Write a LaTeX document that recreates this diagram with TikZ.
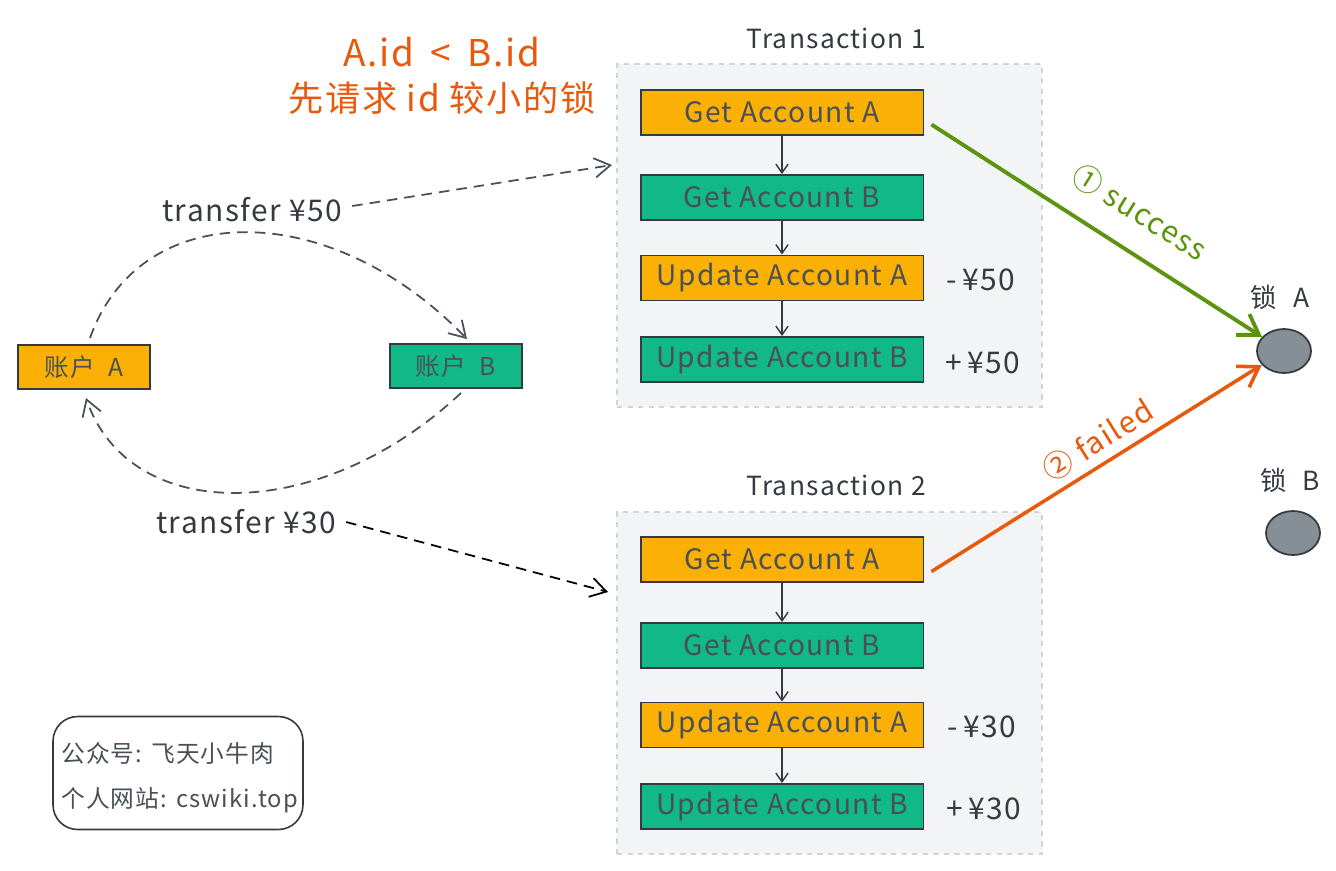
\documentclass[tikz,border=0pt]{standalone}
\usepackage{fontspec}
\setmainfont[LetterSpace=5]{Noto Sans CJK SC}
\usetikzlibrary{arrows.meta,calc,shapes.geometric}
\definecolor{ink}{HTML}{343A40}
\definecolor{inkb}{HTML}{495057}
\definecolor{ylw}{HTML}{FAB005}
\definecolor{grn}{HTML}{12B886}
\definecolor{org}{HTML}{E8590C}
\definecolor{lime}{HTML}{5C940D}
\definecolor{boxbg}{HTML}{F3F4F6}
\definecolor{boxln}{HTML}{CED4DA}
\definecolor{lockfill}{HTML}{868E96}
\tikzset{
  step box/.style={draw=ink, line width=1.1pt, minimum width=5.66cm, minimum height=0.9cm, inner sep=0pt, text=inkb, font=\fontsize{16}{19}\selectfont},
  ybox/.style={step box, fill=ylw},
  gbox/.style={step box, fill=grn},
  acc box/.style={draw=ink, line width=1.1pt, minimum width=2.64cm, minimum height=0.88cm, inner sep=0pt, text=inkb, font=\fontsize{14}{17}\selectfont},
  txbox/.style={draw=boxln, dashed, fill=boxbg, line width=0.7pt, minimum width=8.5cm, inner sep=0pt},
  title/.style={text=ink, font=\fontsize{15}{18}\selectfont},
  amount/.style={text=ink, font=\fontsize{17}{20}\selectfont},
  flow/.style={draw=ink, line width=0.8pt, -{Straight Barb[length=5pt,width=7pt]}},
  dashflow/.style={draw=inkb, line width=1pt, dash pattern=on 6pt off 4pt, -{Straight Barb[length=9pt,width=11pt]}},
  lock/.style={ellipse, draw=ink, line width=1pt, fill=lockfill, minimum width=1.08cm, minimum height=0.88cm, inner sep=0pt},
  locklbl/.style={text=ink, font=\fontsize{15}{18}\selectfont},
  transfer/.style={text=ink, font=\fontsize{17}{20}\selectfont},
  wmtext/.style={text=inkb, anchor=west, font=\fontsize{13.5}{16}\selectfont},
}
\begin{document}
\begin{tikzpicture}[x=0.02cm,y=-0.02cm]
\useasboundingbox (0,0) rectangle (1336,870);
\fill[white] (0,0) rectangle (1336,870);

% headings
\node[text=org, font=\fontsize{21}{25}\selectfont] (hd1) at (442,52) {A.id\, <\, B.id};
\node[text=org, font=\fontsize{20}{24}\selectfont] (hd2) at (442,98) {先请求 id 较小的锁};

% transaction boxes
\node[txbox, minimum height=6.86cm] (t1) at (829.5,235.5) {};
\node[txbox, minimum height=6.84cm] (t2) at (829.5,683) {};
\node[title] (t1t) at (836,38) {Transaction 1};
\node[title] (t2t) at (836,485) {Transaction 2};

% transaction 1
\node[ybox] (ga1) at (782,112.5) {Get Account A};
\node[gbox] (gb1) at (782,197.5) {Get Account B};
\node[ybox] (ua1) at (782,278) {Update Account A};
\node[gbox] (ub1) at (782,359.5) {Update Account B};
\draw[flow] (ga1.south) -- (gb1.north);
\draw[flow] (gb1.south) -- (ua1.north);
\draw[flow] (ua1.south) -- (ub1.north);
\node[amount] (m50) at (981,280) {-\,¥50};
\node[amount] (p50) at (983,363) {+\,¥50};

% transaction 2
\node[ybox] (ga2) at (782,559.5) {Get Account A};
\node[gbox] (gb2) at (782,645.5) {Get Account B};
\node[ybox] (ua2) at (782,725) {Update Account A};
\node[gbox] (ub2) at (782,806.5) {Update Account B};
\draw[flow] (ga2.south) -- (gb2.north);
\draw[flow] (gb2.south) -- (ua2.north);
\draw[flow] (ua2.south) -- (ub2.north);
\node[amount] (m30) at (982,727) {-\,¥30};
\node[amount] (p30) at (984,809) {+\,¥30};

% accounts
\node[acc box, fill=ylw] (accA) at (84,367) {账户\ \ A};
\node[acc box, fill=grn] (accB) at (456,366) {账户\ \ B};

\draw[dashflow] ($(accA.north)+(6,-6)$) .. controls (140,197) and (330,197) .. ($(accB.north)+(11,-4)$);
\draw[dashflow] ($(accB.south)+(5,4)$) .. controls (320,525) and (130,525) .. ($(accA.south)+(2,8)$);

% transfer labels
\node[transfer] (tr50) at (252,210) {transfer ¥50};
\node[transfer] (tr30) at (246,522) {transfer ¥30};
\coordinate (e50) at (612,165);
\coordinate (e30) at (608,592);
\draw[dashflow] ($(tr50.east)+(4,-4)$) -- (e50);
\draw[dashflow, draw=black] ($(tr30.east)+(4,0)$) -- (e30);

% locks
\node[lock] (lockA) at (1284,351) {};
\node[lock] (lockB) at (1293,533) {};
\node[locklbl] (lAl) at (1280,297) {锁\hspace{0.6em}A};
\node[locklbl] (lBl) at (1290,480) {锁\hspace{0.6em}B};

% lock arrows
\draw[lime, line width=2.2pt, -{Straight Barb[length=11pt,width=14pt]}] ($(ga1.east)+(7,12)$) -- (lockA);
\draw[org, line width=2pt, -{Straight Barb[length=11pt,width=14pt]}] ($(ga2.east)+(7,12)$) -- (lockA);
\node[text=lime, rotate=-32, font=\fontsize{17}{20}\selectfont] (succ) at (1140,212) {① success};
\node[text=org, rotate=32, font=\fontsize{17}{20}\selectfont] (fail) at (1098,440) {② failed};

% watermark
\node[draw=ink, line width=0.9pt, rounded corners=14pt, minimum width=5.0cm, minimum height=2.26cm, inner sep=0pt] (wm) at (178,773) {};
\node[wmtext] (wm1) at (55,753) {公众号: 飞天小牛肉};
\node[wmtext] (wm2) at (55,800) {个人网站: cswiki.top};
\end{tikzpicture}
\end{document}
